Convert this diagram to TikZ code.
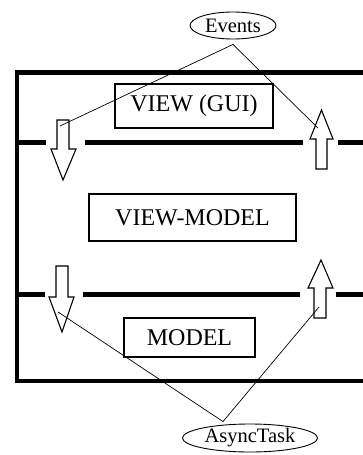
\documentclass[tikz,border=0pt]{standalone}
\usepackage{fontspec}
\setmainfont{Liberation Serif}
\usetikzlibrary{shapes.geometric}
\begin{document}
\begin{tikzpicture}[x=1pt,y=-1pt,
  frame/.style={line width=4.5pt},
  sep/.style={line width=4.5pt},
  layer/.style={draw,line width=1.1pt,inner sep=0pt,font=\fontsize{24}{26}\selectfont},
  bubble/.style={draw,ellipse,line width=0.9pt,inner sep=0pt,font=\fontsize{20.5}{22}\selectfont},
  blockarrow/.style={draw,fill=white,line width=1.1pt,line join=miter},
  link/.style={line width=0.7pt}]
\useasboundingbox (0,0) rectangle (363,455);
\clip (0,0) rectangle (363,455);

% outer frame (open to the right)
\draw[frame] (380,72.5) -- (17,72.5) -- (17,381) -- (380,381);

% dashed layer separators
\draw[sep] (17,142.5) -- (46,142.5) (85,142.5) -- (303,142.5) (338,142.5) -- (370,142.5);
\draw[sep] (17,294.5) -- (45,294.5) (83,294.5) -- (300,294.5) (336,294.5) -- (370,294.5);

% layers
\node[layer,minimum width=158pt,minimum height=44pt] (view) at (194,106) {VIEW (GUI)};
\node[layer,minimum width=207pt,minimum height=47pt] (vm) at (192.5,217.5) {VIEW-MODEL};
\node[layer,minimum width=131pt,minimum height=39pt] (model) at (189.5,337.5) {MODEL};

% block arrows between layers
\draw[blockarrow] (57,120) -- (69,120) -- (69,149) -- (76,149) -- (63,180) -- (51,149) -- (57,149) -- cycle;
\draw[blockarrow] (316,169) -- (327,169) -- (327,139) -- (333,139) -- (321.5,110) -- (310,139) -- (316,139) -- cycle;
\draw[blockarrow] (56,266) -- (68,266) -- (68,297) -- (74,297) -- (62,332) -- (49,297) -- (56,297) -- cycle;
\draw[blockarrow] (314,318) -- (326,318) -- (326,288) -- (333,288) -- (321,260) -- (308,288) -- (314,288) -- cycle;

% link end points inside the arrows
\coordinate (inA) at (60,126);
\coordinate (inB) at (318,128);
\coordinate (inC) at (58,312);
\coordinate (inD) at (319,307);

% sources
\node[bubble,minimum width=86pt,minimum height=27pt] (events) at (233,25.5) {Events};
\node[bubble,minimum width=135pt,minimum height=28pt] (async) at (250,438) {AsyncTask};

\coordinate (evFoot) at ([yshift=-5pt]events.south);
\coordinate (asHead) at ([xshift=-27pt,yshift=2pt]async.north);

\draw[link] (evFoot) -- (inA);
\draw[link] (evFoot) -- (inB);
\draw[link] (asHead) -- (inC);
\draw[link] (asHead) -- (inD);
\end{tikzpicture}
\end{document}
